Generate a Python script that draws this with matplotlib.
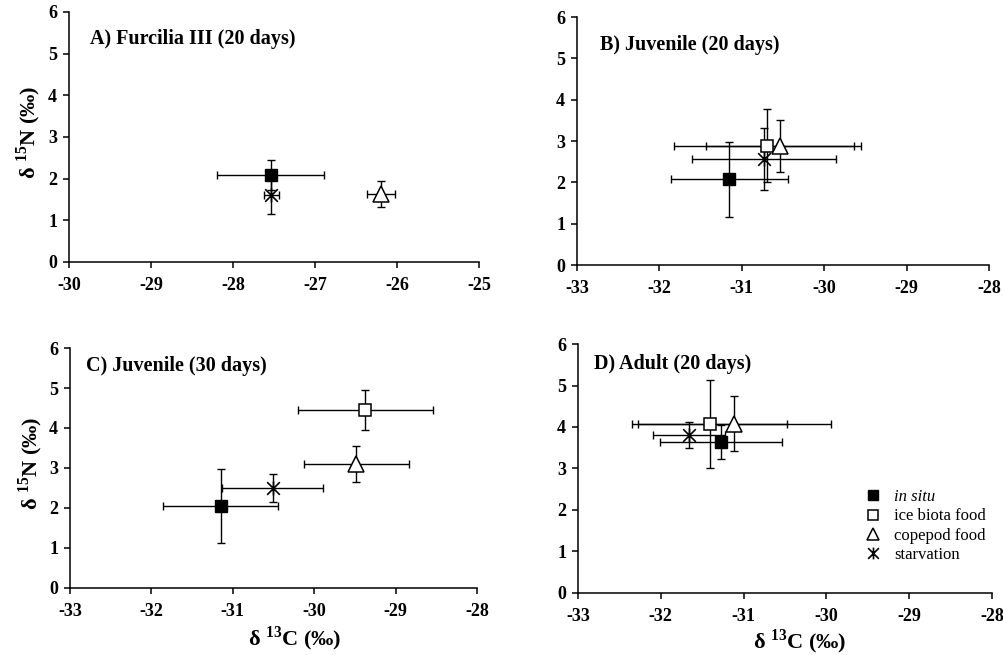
import numpy as np
import matplotlib
matplotlib.use("Agg")
import matplotlib.pyplot as plt
from matplotlib.path import Path

plt.rcParams['font.family'] = ['Liberation Serif', 'DejaVu Serif']
plt.rcParams['font.weight'] = 'bold'
plt.rcParams['mathtext.fontset'] = 'custom'
plt.rcParams['mathtext.rm'] = 'Liberation Serif:bold'
plt.rcParams['mathtext.bf'] = 'Liberation Serif:bold'
plt.rcParams['axes.unicode_minus'] = False

nan = np.nan

# treatments, same order in every panel
treatments = ['in situ', 'ice biota food', 'copepod food', 'starvation']

# A) Furcilia III (20 days) - no ice biota group
A_x = [-27.54, nan, -26.19, -27.53]
A_y = [2.09, nan, 1.63, 1.61]
A_xerr = [0.655, nan, 0.17, 0.09]
A_yerr = [0.36, nan, 0.32, 0.46]

# B) Juvenile (20 days)
B_x = [-31.155, -30.69, -30.54, -30.73]
B_y = [2.07, 2.89, 2.87, 2.56]
B_xerr = [0.71, 1.135, 0.90, 0.87]
B_yerr = [0.90, 0.89, 0.63, 0.755]

# C) Juvenile (30 days)
C_x = [-31.15, -29.37, -29.48, -30.51]
C_y = [2.05, 4.44, 3.10, 2.49]
C_xerr = [0.71, 0.83, 0.65, 0.62]
C_yerr = [0.92, 0.50, 0.46, 0.35]

# D) Adult (20 days)
D_x = [-31.27, -31.41, -31.11, -31.66]
D_y = [3.64, 4.07, 4.08, 3.81]
D_xerr = [0.74, 0.94, 1.17, 0.44]
D_yerr = [0.41, 1.06, 0.66, 0.31]

titles = ['A) Furcilia III (20 days)', 'B) Juvenile (20 days)',
          'C) Juvenile (30 days)', 'D) Adult (20 days)']
xranges = [(-30, -25), (-33, -28), (-33, -28), (-33, -28)]

# asterisk = x with a vertical stroke
star = Path([(-0.5, -0.5), (0.5, 0.5), (-0.5, 0.5), (0.5, -0.5), (0, -0.55), (0, 0.55)],
            [Path.MOVETO, Path.LINETO, Path.MOVETO, Path.LINETO, Path.MOVETO, Path.LINETO])

styles = [dict(marker='s', ms=9, mfc='black', mec='black'),
          dict(marker='s', ms=9, mfc='white', mec='black', mew=1.1),
          dict(marker='^', ms=11, mfc='white', mec='black', mew=1.1),
          dict(marker=star, ms=10, mfc='none', mec='black', mew=1.2)]

fig = plt.figure(figsize=(10.04, 6.55), dpi=100)
boxes = [[0.0687, 0.600, 0.4083, 0.3817],
         [0.5747, 0.5954, 0.4103, 0.3786],
         [0.0697, 0.1023, 0.4053, 0.3664],
         [0.5757, 0.0947, 0.4123, 0.3801]]
title_pos = [(0.051, 0.892), (0.056, 0.887), (0.039, 0.925), (0.039, 0.92)]

panels = [(A_x, A_y, A_xerr, A_yerr), (B_x, B_y, B_xerr, B_yerr),
          (C_x, C_y, C_xerr, C_yerr), (D_x, D_y, D_xerr, D_yerr)]

axes = []
for k, (xs, ys, xe, ye) in enumerate(panels):
    ax = fig.add_axes(boxes[k])
    axes.append(ax)
    # error bars underneath
    for i in range(4):
        if np.isnan(xs[i]):
            continue
        ax.errorbar(xs[i], ys[i], xerr=xe[i], yerr=ye[i], fmt='none',
                    ecolor='black', elinewidth=1.0, capsize=2.7, capthick=1.0, zorder=2)
    # markers on top
    for i in range(4):
        if np.isnan(xs[i]):
            continue
        ax.plot(xs[i], ys[i], ls='none', zorder=3, label=treatments[i], **styles[i])

    ax.set_xlim(*xranges[k])
    ax.set_ylim(0, 6)
    ax.set_xticks(np.arange(xranges[k][0], xranges[k][1] + 1, 1))
    ax.set_yticks(np.arange(0, 7, 1))
    for s in ['top', 'right']:
        ax.spines[s].set_visible(False)
    for s in ['left', 'bottom']:
        ax.spines[s].set_linewidth(1.1)
    ax.tick_params(direction='out', length=4.5, width=1.1, labelsize=13, pad=4)
    ax.tick_params(axis='x', pad=6)
    ax.text(title_pos[k][0], title_pos[k][1], titles[k], transform=ax.transAxes,
            fontsize=14.5, fontweight='bold', va='center', ha='left')

for ax in (axes[0], axes[2]):
    ax.set_ylabel('δ $^{15}$N (‰)', fontsize=16, fontweight='bold')
axes[0].yaxis.set_label_coords(-0.063, 0.52)
axes[2].yaxis.set_label_coords(-0.061, 0.52)
for ax in (axes[2], axes[3]):
    ax.set_xlabel('δ $^{13}$C (‰)', fontsize=16, fontweight='bold')
axes[2].xaxis.set_label_coords(0.553, -0.152)
axes[3].xaxis.set_label_coords(0.536, -0.137)

leg = axes[3].legend(loc='upper left', bbox_to_anchor=(0.676, 0.444), frameon=False,
                     fontsize=12, handlelength=1.0, handletextpad=0.8,
                     labelspacing=0.2, borderaxespad=0, markerscale=0.85)
for t in leg.get_texts():
    t.set_fontweight('normal')
leg.get_texts()[0].set_fontstyle('italic')

fig.savefig('out.png', dpi=100)
